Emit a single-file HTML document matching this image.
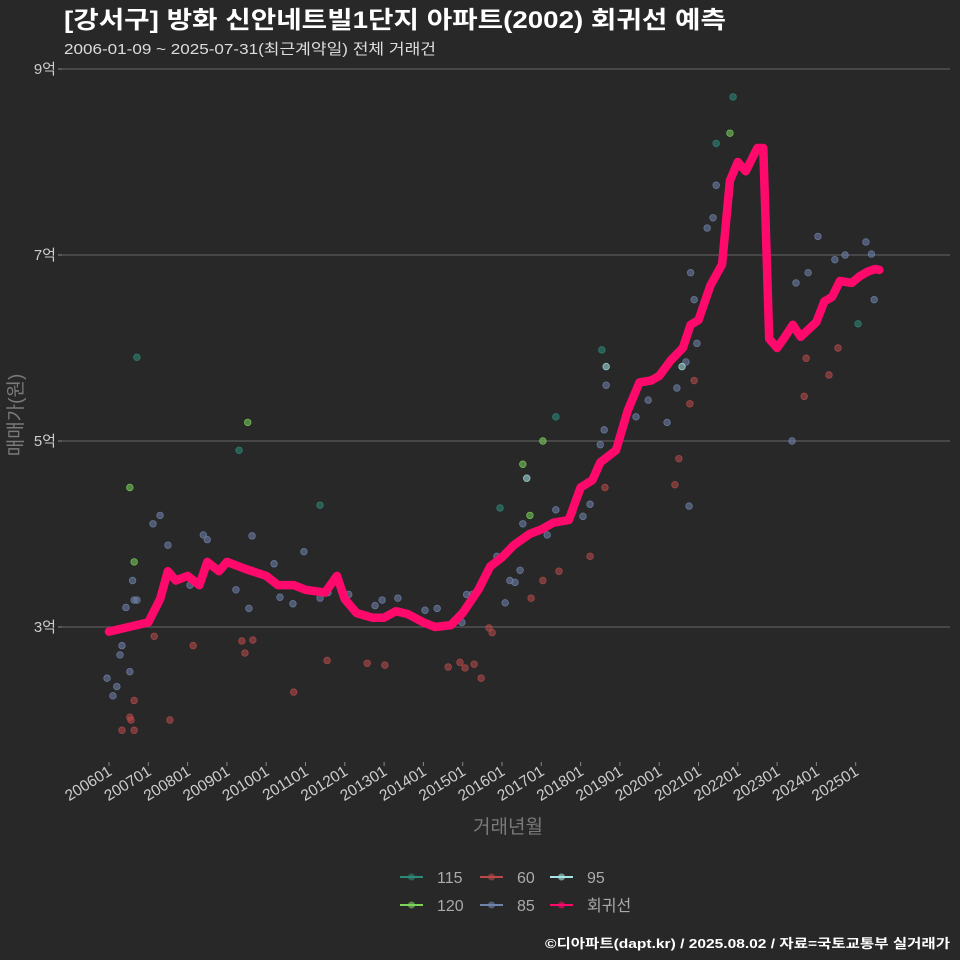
<!DOCTYPE html>
<html><head><meta charset="utf-8">
<style>
html,body{margin:0;padding:0;background:#282828;}
svg{display:block;font-family:"Liberation Sans","Noto Sans CJK KR",sans-serif;}
</style></head>
<body>
<svg id="chart" width="960" height="960" viewBox="0 0 960 960">
<rect x="0" y="0" width="960" height="960" fill="#282828"/>
<text x="64" y="28" fill="#ffffff" font-size="24" font-weight="bold" textLength="662" lengthAdjust="spacingAndGlyphs">[강서구] 방화 신안네트빌1단지 아파트(2002) 회귀선 예측</text>
<text x="64" y="54" fill="#dddddd" font-size="15" textLength="372" lengthAdjust="spacingAndGlyphs">2006-01-09 ~ 2025-07-31(최근계약일) 전체 거래건</text>
<g id="grid"></g>
<g id="yaxis"></g>
<g id="xaxis"></g>
<g id="points"></g>
<path id="reg" fill="none" stroke="#ff0a6c" stroke-width="8.5" stroke-linejoin="round" stroke-linecap="round"/>
<text transform="translate(22,415) rotate(-90)" text-anchor="middle" fill="#7a7a7a" font-size="19">매매가(원)</text>
<text x="508" y="833" text-anchor="middle" fill="#7a7a7a" font-size="19">거래년월</text>
<g id="legend"></g>
<text x="950" y="948" text-anchor="end" fill="#ffffff" font-size="13" font-weight="bold" textLength="405" lengthAdjust="spacingAndGlyphs">©디아파트(dapt.kr) / 2025.08.02 / 자료=국토교통부 실거래가</text>
</svg>
<script>
const yTicks=[3,5,7,9];
const yTickLabels=["3억","5억","7억","9억"];
const xTickYears=[2006,2007,2008,2009,2010,2011,2012,2013,2014,2015,2016,2017,2018,2019,2020,2021,2022,2023,2024,2025];
const xTickLabels=["200601","200701","200801","200901","201001","201101","201201","201301","201401","201501","201601","201701","201801","201901","202001","202101","202201","202301","202401","202501"];
const regT=[2006.0,2006.5,2007.0,2007.3,2007.5,2007.7,2008.0,2008.3,2008.5,2008.8,2009.0,2009.5,2010.0,2010.3,2010.7,2011.0,2011.5,2011.8,2012.0,2012.3,2012.7,2013.0,2013.3,2013.6,2014.0,2014.3,2014.7,2015.0,2015.4,2015.7,2016.0,2016.3,2016.7,2017.0,2017.3,2017.7,2018.0,2018.3,2018.5,2018.9,2019.2,2019.5,2019.8,2020.0,2020.3,2020.6,2020.8,2021.0,2021.3,2021.6,2021.8,2022.0,2022.2,2022.5,2022.65,2022.8,2023.0,2023.2,2023.4,2023.6,2023.8,2024.0,2024.2,2024.4,2024.6,2024.9,2025.1,2025.3,2025.5,2025.6];
const regV=[2.95,3.0,3.05,3.3,3.6,3.5,3.55,3.45,3.7,3.6,3.7,3.62,3.55,3.45,3.45,3.4,3.37,3.55,3.3,3.15,3.1,3.1,3.17,3.14,3.05,3.0,3.02,3.15,3.4,3.65,3.75,3.88,4.0,4.05,4.12,4.15,4.5,4.58,4.77,4.9,5.33,5.63,5.65,5.7,5.87,6.0,6.25,6.3,6.67,6.9,7.8,8.0,7.9,8.15,8.15,6.1,6.0,6.12,6.25,6.12,6.2,6.28,6.5,6.55,6.72,6.7,6.77,6.82,6.85,6.84];
const s85T=[2005.95,2006.1,2006.2,2006.28,2006.33,2006.38,2006.43,2006.53,2006.6,2006.64,2006.71,2007.12,2007.3,2007.5,2008.06,2008.4,2008.5,2009.23,2009.56,2009.64,2010.2,2010.35,2010.68,2010.96,2011.37,2011.57,2012.1,2012.77,2012.95,2013.35,2014.04,2014.35,2014.98,2015.1,2015.24,2015.64,2015.87,2016.08,2016.2,2016.33,2016.46,2016.53,2017.15,2017.37,2017.8,2018.06,2018.24,2018.5,2018.6,2018.65,2019.41,2019.72,2020.2,2020.45,2020.68,2020.76,2020.8,2020.89,2020.96,2021.22,2021.37,2021.45,2021.78,2023.38,2023.48,2023.79,2024.04,2024.47,2024.73,2025.26,2025.47,2025.4];
const s85V=[2.45,2.26,2.36,2.7,2.8,2.99,3.21,2.52,3.5,3.29,3.29,4.11,4.2,3.88,3.45,3.99,3.94,3.4,3.2,3.98,3.68,3.32,3.25,3.81,3.31,3.37,3.35,3.23,3.29,3.31,3.18,3.2,3.05,3.35,3.35,3.61,3.76,3.26,3.5,3.48,3.61,4.11,3.99,4.26,4.24,4.19,4.32,4.96,5.12,5.6,5.26,5.44,5.2,5.57,5.85,4.3,6.81,6.52,6.05,7.29,7.4,7.75,7.63,5.0,6.7,6.81,7.2,6.95,7.0,7.14,6.52,7.01];
const s60T=[2006.33,2006.53,2006.56,2006.64,2006.64,2007.15,2007.55,2008.14,2009.38,2009.46,2009.66,2010.7,2011.55,2012.57,2013.02,2014.63,2014.93,2015.06,2015.29,2015.47,2015.67,2015.75,2016.74,2017.04,2017.45,2018.24,2018.62,2020.4,2020.5,2020.78,2020.89,2023.69,2023.74,2024.32,2024.55];
const s60V=[1.89,2.03,2.0,2.21,1.89,2.9,2.0,2.8,2.85,2.72,2.86,2.3,2.64,2.61,2.59,2.57,2.62,2.56,2.6,2.45,2.99,2.94,3.31,3.5,3.6,3.76,4.5,4.53,4.81,5.4,5.65,5.48,5.89,5.71,6.0];
const s115T=[2006.71,2009.31,2011.37,2015.95,2017.37,2018.54,2021.45,2021.88,2025.06];
const s115V=[5.9,4.9,4.31,4.28,5.26,5.98,8.2,8.7,6.26];
const s120T=[2006.53,2009.53,2016.53,2016.71,2017.04,2021.8,2006.64];
const s120V=[4.5,5.2,4.75,4.2,5.0,8.31,3.7];
const s95T=[2018.65,2020.58,2016.63];
const s95V=[5.8,5.8,4.6];

const NS="http://www.w3.org/2000/svg";
const X=t=>109+(t-2006)*39.3;
const Y=v=>69+(9-v)*93;
function mk(tag,attrs,parent){const e=document.createElementNS(NS,tag);for(const k in attrs)e.setAttribute(k,attrs[k]);parent.appendChild(e);return e;}
const grid=document.getElementById('grid'),yax=document.getElementById('yaxis'),xax=document.getElementById('xaxis');
yTicks.forEach((v,i)=>{
  const l=mk('line',{x1:62,x2:950,y1:Y(v),y2:Y(v),stroke:'#5a5a5a','stroke-width':1.2},grid);
  
  
  mk('line',{x1:58,x2:62,y1:Y(v),y2:Y(v),stroke:'#888'},yax);
  const t=mk('text',{x:56,y:Y(v)+5,'text-anchor':'end',fill:'#cccccc','font-size':15},yax);
  t.textContent=yTickLabels[i];
  
  
});
xTickYears.forEach((yr,i)=>{
  const x=X(yr);
  mk('line',{x1:x,x2:x,y1:762,y2:766,stroke:'#888'},xax);
  const t=mk('text',{x:x+4,y:774,'text-anchor':'end',fill:'#cccccc','font-size':15.5,transform:`rotate(-32 ${x+4} 774)`},xax);
  t.textContent=xTickLabels[i];
  
  
});
const pts=document.getElementById('points');
const series=[[s85T,s85V,'#7083ad','85'],[s60T,s60V,'#b84a4a','60'],[s115T,s115V,'#2e8a78','115'],[s120T,s120V,'#7bd35a','120'],[s95T,s95V,'#a6e4e4','95']];
series.forEach(([T,V,c,n])=>{
  T.forEach((t,i)=>{
    const p=mk('circle',{cx:X(t),cy:Y(V[i]),r:3.3,fill:c,'fill-opacity':0.55,stroke:c,'stroke-opacity':0.8,'stroke-width':0.8},pts);
    
    
  });
});
document.getElementById('reg').setAttribute('d',regT.map((t,i)=>(i?'L':'M')+X(t).toFixed(1)+','+Y(regV[i]).toFixed(1)).join(''));
const leg=document.getElementById('legend');
const legItems=[['115','#2e8a78',400,877],['60','#b84a4a',480,877],['95','#a6e4e4',550,877],['120','#7bd35a',400,905],['85','#7083ad',480,905],['회귀선','#ff0a6c',550,905]];
legItems.forEach(([n,c,x,y])=>{
  const g=mk('g',{},leg);
  
  
  mk('line',{x1:x,x2:x+23,y1:y,y2:y,stroke:c,'stroke-width':2},g);
  mk('circle',{cx:x+11.5,cy:y,r:3.5,fill:c,'fill-opacity':0.6},g);
  const t=mk('text',{x:x+37,y:y+6,fill:'#aaaaaa','font-size':16},g);
  t.textContent=n;
});
</script>
</body></html>
